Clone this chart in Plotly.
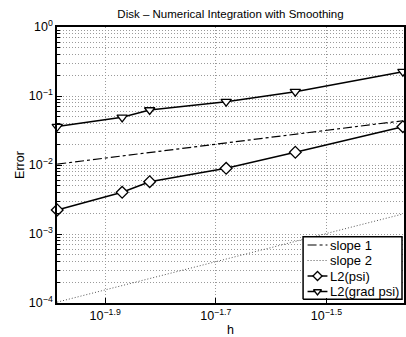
import plotly.graph_objects as go
import numpy as np

# data
h = [0.01031, 0.01351, 0.01515, 0.02083, 0.02778, 0.04348]
err_psi = [0.00223, 0.00402, 0.00573, 0.00896, 0.0153, 0.0359]
err_grad = [0.0361, 0.0491, 0.0627, 0.0827, 0.1154, 0.225]
slope_h = [0.01031, 0.04348]
slope1 = [0.0103, 0.0438]
slope2 = [0.000103, 0.00195]

series_names = ["slope 1", "slope 2", "L2(psi)", "L2(grad psi)"]

xtick_vals = [10**-1.9, 10**-1.7, 10**-1.5]
xtick_text = ["10<sup>−1.9</sup>", "10<sup>−1.7</sup>", "10<sup>−1.5</sup>"]
ytick_vals = [1e-4, 1e-3, 1e-2, 1e-1, 1]
ytick_text = ["10<sup>−4</sup>", "10<sup>−3</sup>", "10<sup>−2</sup>", "10<sup>−1</sup>", "10<sup>0</sup>"]
yminor = [m * 10.0**k for k in range(-4, 0) for m in range(2, 10)]

FONT = "Liberation Sans, Arial, Helvetica, sans-serif"
GRID = "#9a9a9a"
GDASH = "1px,2px"

styles = [
    dict(line=dict(color="black", width=1.2, dash="dashdot"), marker=None),
    dict(line=dict(color="#555", width=1, dash="1px,2px"), marker=None),
    dict(line=dict(color="black", width=1.5),
         marker=dict(symbol="diamond", size=9, color="white", line=dict(color="black", width=1.3))),
    dict(line=dict(color="black", width=1.5),
         marker=dict(symbol="triangle-down", size=9, color="white", line=dict(color="black", width=1.3))),
]

fig = go.Figure()
fig.add_trace(go.Scatter(x=slope_h, y=slope1, mode="lines", name=series_names[0],
                         line=styles[0]["line"]))
fig.add_trace(go.Scatter(x=slope_h, y=slope2, mode="lines", name=series_names[1],
                         line=styles[1]["line"]))
fig.add_trace(go.Scatter(x=h, y=err_psi, mode="lines+markers", name=series_names[2],
                         line=styles[2]["line"], marker=styles[2]["marker"], cliponaxis=False))
fig.add_trace(go.Scatter(x=h, y=err_grad, mode="lines+markers", name=series_names[3],
                         line=styles[3]["line"], marker=styles[3]["marker"], cliponaxis=False))

# ---- custom legend (Matlab-style compact box) on an overlay axis in [0,1] ----
W, H = 406, 337
L, R, T, B = 57, 0, 27, 34
pw, ph = W - L - R, H - T - B
def px(x): return (x - L) / pw
def py(y): return (H - B - y) / ph

bx0, bx1, by0, by1 = px(304.5), px(404), py(299.3), py(236.7)
fig.add_trace(go.Scatter(x=[bx0, bx1, bx1, bx0, bx0], y=[by0, by0, by1, by1, by0],
                         mode="lines", fill="toself", fillcolor="white",
                         line=dict(color="black", width=1.5), xaxis="x2", yaxis="y2",
                         hoverinfo="skip", showlegend=False))
rows = [245, 260.5, 276, 291.5]
lx0, lx1, lxm, tx = px(309), px(329), px(319), px(330)
for name, st, ry in zip(series_names, styles, rows):
    yy = py(ry)
    fig.add_trace(go.Scatter(x=[lx0, lx1], y=[yy, yy], mode="lines", line=st["line"],
                             xaxis="x2", yaxis="y2", hoverinfo="skip", showlegend=False))
    if st["marker"] is not None:
        mk = dict(st["marker"]); mk["size"] = 7
        fig.add_trace(go.Scatter(x=[lxm], y=[yy], mode="markers", marker=mk,
                                 xaxis="x2", yaxis="y2", hoverinfo="skip", showlegend=False))
    fig.add_annotation(x=tx, y=yy, xref="paper", yref="paper", text=name, showarrow=False,
                       xanchor="left", yanchor="middle", font=dict(size=13, family=FONT))

fig.update_layout(
    width=W, height=H,
    margin=dict(l=L, r=R, t=T, b=B),
    paper_bgcolor="white", plot_bgcolor="white",
    font=dict(family=FONT, size=12, color="black"),
    title=dict(text="Disk – Numerical Integration with Smoothing", x=0.5, xref="paper",
               y=1 - 14 / H, yanchor="middle", yref="container",
               font=dict(size=11.5)),
    showlegend=False,
    xaxis2=dict(overlaying="x", range=[0, 1], visible=False, fixedrange=True),
    yaxis2=dict(overlaying="y", range=[0, 1], visible=False, fixedrange=True),
)
fig.update_layout(xaxis=dict(type="log", range=[np.log10(0.0103), np.log10(0.04348) + 0.002],
                 tickvals=xtick_vals, ticktext=xtick_text, tickfont=dict(size=12.5),
                 showgrid=True, gridcolor=GRID, griddash=GDASH, gridwidth=1,
                 showline=True, linecolor="black", linewidth=1.5, mirror=True,
                 ticks="inside", ticklen=5, tickcolor="black",
                 title=dict(text="h", standoff=4, font=dict(size=12.5)), zeroline=False))
fig.update_layout(yaxis=dict(type="log", range=[-4, 0],
                 tickvals=ytick_vals, ticktext=ytick_text, tickfont=dict(size=12.5),
                 showgrid=True, gridcolor=GRID, griddash=GDASH, gridwidth=1,
                 minor=dict(tickvals=yminor, showgrid=True, gridcolor=GRID,
                            griddash=GDASH, ticks="inside", ticklen=3, tickcolor="black"),
                 showline=True, linecolor="black", linewidth=1.5, mirror=True,
                 ticks="inside", ticklen=5, tickcolor="black",
                 title=dict(text="Error", standoff=1, font=dict(size=12.5)), zeroline=False))

fig.write_html("out.html")
